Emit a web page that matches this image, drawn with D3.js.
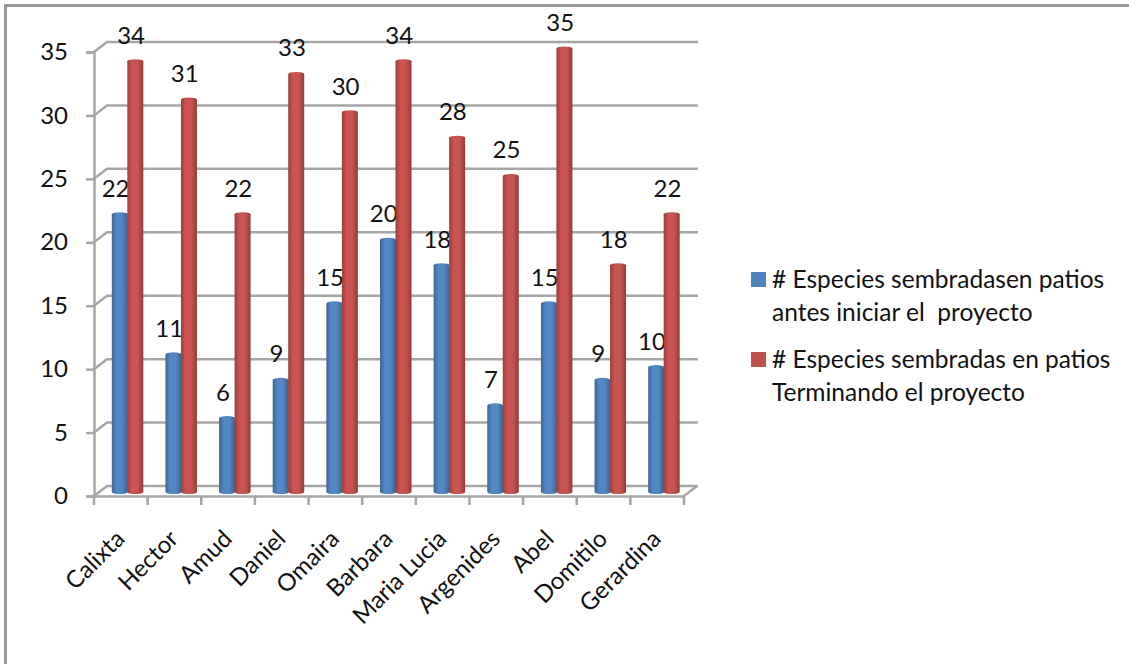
<!DOCTYPE html>
<html>
<head>
<meta charset="utf-8">
<script src="https://cdn.jsdelivr.net/npm/d3@7"></script>
<style>
  html, body { margin: 0; padding: 0; background: #fff; }
  text { font-family: Lato, "Open Sans", sans-serif; fill: #111; }
</style>
</head>
<body>
<div id="chart"></div>
<script>
// Chart values
const names = ["Calixta", "Hector", "Amud", "Daniel", "Omaira", "Barbara", "Maria Lucia", "Argenides", "Abel", "Domitilo", "Gerardina"];
const antes = [22, 11, 6, 9, 15, 20, 18, 7, 15, 9, 10];
const despues = [34, 31, 22, 33, 30, 34, 28, 25, 35, 18, 22];
const yTicks = [0, 5, 10, 15, 20, 25, 30, 35];
const seriesKeys = ["antes", "despues"];
const seriesValues = { antes: antes, despues: despues };
const seriesColors = { antes: "#4f81bd", despues: "#c0504d" };
const legendLines = {
  antes: ["# Especies sembradasen patios", "antes iniciar el\u00a0 proyecto"],
  despues: ["# Especies sembradas en patios", "Terminando el proyecto"]
};

const width = 1129, height = 664;
const svg = d3.select("#chart").append("svg")
  .attr("width", width)
  .attr("height", height)
  .style("display", "block");

const defs = svg.append("defs");
// shading across the cylinders
seriesKeys.forEach(k => {
  const c = d3.color(seriesColors[k]);
  const g = defs.append("linearGradient").attr("id", "grad-" + k);
  g.append("stop").attr("offset", "0%").attr("stop-color", c.darker(0.7));
  g.append("stop").attr("offset", "30%").attr("stop-color", c.brighter(0.15));
  g.append("stop").attr("offset", "65%").attr("stop-color", c.brighter(0.1));
  g.append("stop").attr("offset", "100%").attr("stop-color", c.darker(0.8));
});

// outer frame, only top and left show in the picture
svg.append("path")
  .attr("d", `M5.5,${height}V5.5H${width}`)
  .attr("fill", "none").attr("stroke", "#989898").attr("stroke-width", 3);

// Scales: front axis plane, the back wall sits depthX/depthY away
const depthX = 13, depthY = 10;
const x = d3.scaleBand().domain(names).range([94, 684]);
const y = d3.scaleLinear().domain([0, 35]).range([496, 52]);
const barY = d3.scaleLinear().domain([0, 35]).range([493, 47]);
const inner = d3.scaleBand().domain(seriesKeys).range([0, 31]);
const barOffset = (x.bandwidth() - inner.range()[1]) / 2 + 6.5;

const gridColor = "#a6a6a6";
const walls = svg.append("g").attr("fill", "none").attr("stroke", gridColor).attr("stroke-width", 2.5);

// grid lines wrap from the left side wall along the back wall
yTicks.forEach(t => {
  walls.append("path")
    .attr("d", `M94,${y(t)}L${94 + depthX},${y(t) - depthY}H${685 + depthX}`);
});
// floor front-right edge
walls.append("path").attr("d", `M684,${y(0)}L${684 + depthX},${y(0) - depthY}`);

// y axis
const yAxis = svg.append("g")
  .attr("transform", "translate(94,0)")
  .call(d3.axisLeft(y).tickValues(yTicks).tickSize(8).tickPadding(18));
// x axis
const xAxis = svg.append("g")
  .attr("transform", `translate(0,${y(0)})`)
  .call(d3.axisBottom(x).tickSize(0).tickPadding(0).tickFormat(""));
xAxis.selectAll(".tick").remove();
[...names, null].forEach((n, i) => {
  const px = n ? x(n) : x.range()[1];
  xAxis.append("line").attr("x1", px).attr("x2", px).attr("y1", 0).attr("y2", 9);
});
[yAxis, xAxis].forEach(a => {
  a.selectAll("path.domain").attr("stroke", gridColor).attr("stroke-width", 2.5);
  a.selectAll("line").attr("stroke", gridColor).attr("stroke-width", 2.5);
});
yAxis.selectAll("text")
  .attr("font-size", 24)
  .style("font-family", "Lato, sans-serif")
  .style("fill", "#111");

// category labels, rotated
svg.append("g").selectAll("text")
  .data(names)
  .join("text")
  .attr("transform", d => `translate(${x(d) + x.bandwidth() / 2 + 1},${y(0) + 40}) rotate(-45)`)
  .attr("text-anchor", "end")
  .attr("dominant-baseline", "middle")
  .attr("font-size", 24)
  .text(d => d);

// cylinders, blue first so that red overlaps it
seriesKeys.forEach(k => {
  const vals = seriesValues[k];
  const g = svg.append("g");
  const bw = inner.bandwidth() + 0.5;
  g.selectAll("path")
    .data(names.map((n, i) => ({ n, v: vals[i] })))
    .join("path")
    .attr("fill", `url(#grad-${k})`)
    .attr("d", d => {
      const x0 = x(d.n) + barOffset + inner(k);
      const top = barY(d.v), bot = barY(0);
      return `M${x0},${top + 1.5}A${bw / 2},2 0 0 1 ${x0 + bw},${top + 1.5}V${bot - 1}A${bw / 2},2 0 0 1 ${x0},${bot - 1}Z`;
    });
  // data labels
  svg.append("g").selectAll("text")
    .data(names.map((n, i) => ({ n, v: vals[i] })))
    .join("text")
    .attr("x", d => x(d.n) + barOffset + inner(k) + inner.bandwidth() / 2 - 4)
    .attr("y", d => barY(d.v) - 16)
    .attr("text-anchor", "middle")
    .attr("font-size", 24)
    .text(d => d.v);
});

// legend
const legendY = { antes: 279.5, despues: 359.5 };
const legend = svg.append("g");
seriesKeys.forEach(k => {
  legend.append("rect")
    .attr("x", 751).attr("y", legendY[k] - 7.5)
    .attr("width", 15).attr("height", 15)
    .attr("fill", seriesColors[k]);
  legendLines[k].forEach((line, i) => {
    legend.append("text")
      .attr("x", 772)
      .attr("y", legendY[k] + 8 + i * 33)
      .attr("font-size", 24.5)
      .text(line);
  });
});
</script>
</body>
</html>
